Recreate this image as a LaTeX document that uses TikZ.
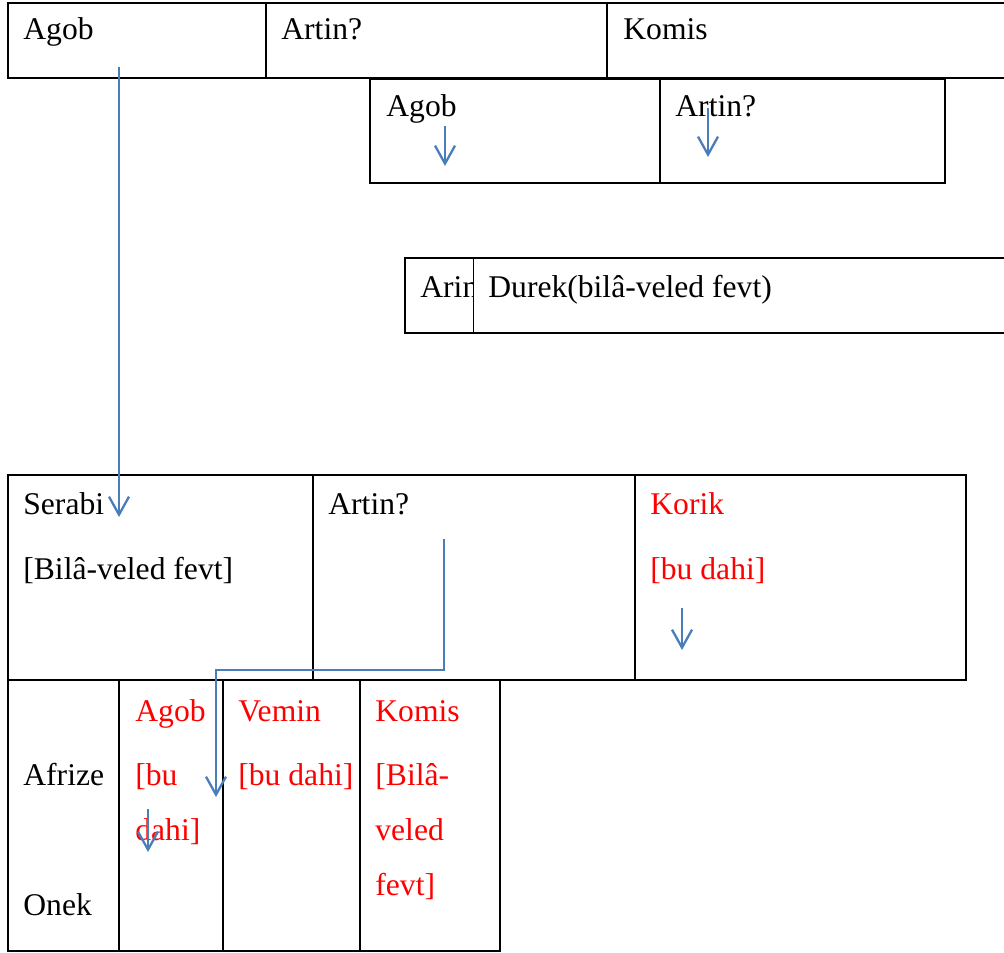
\documentclass[tikz,border=0pt]{standalone}
\usepackage{fontspec}
\setmainfont{Liberation Serif}
\usetikzlibrary{arrows.meta}
\definecolor{arrowblue}{HTML}{4A7EBB}
\definecolor{txtred}{HTML}{FF0000}
\begin{document}
\begin{tikzpicture}[x=0.5pt,y=-0.5pt,
  outer/.style={draw=black,line width=1pt},
  inner/.style={draw=black,line width=0.55pt},
  lbl/.style={anchor=base west,inner sep=0pt,font=\fontsize{15.8}{18}\selectfont},
  redlbl/.style={lbl,text=txtred},
  conn/.style={draw=arrowblue,line width=1.15pt,-{Straight Barb[length=9pt,width=10pt]}}]
\clip (0,0) rectangle (1004,952);
% table 1
\draw[outer] (8,3) rectangle (1012,78);
\draw[inner] (266,3) -- (266,78) (607,3) -- (607,78);
% table 2
\draw[outer] (370,79) rectangle (945,183);
\draw[inner] (660,79) -- (660,183);
% table 3
\draw[outer] (405,258) rectangle (1012,333);
\draw[inner] (473.5,258) -- (473.5,333);
% table 4
\draw[outer] (8,475) rectangle (966,680);
\draw[inner] (313,475) -- (313,680) (635,475) -- (635,680);
% table 5
\draw[outer] (8,680) rectangle (500,951);
\draw[inner] (119,680) -- (119,951) (223,680) -- (223,951) (360,680) -- (360,951);

% texts table 1
\node[lbl] (t1a) at (23,40) {Agob};
\node[lbl] (t1b) at (281,40) {Artin?};
\node[lbl] (t1c) at (623,40) {Komis};
% table 2
\node[lbl] (t2a) at (386,117) {Agob};
\node[lbl] (t2b) at (675,117) {Artin?};
% table 3
\begin{scope}
\clip (405,258) rectangle (473,333);
\node[lbl] (t3a) at (420,297) {Arin};
\end{scope}
\node[lbl] (t3b) at (488,297) {Durek(bilâ-veled fevt)};
% table 4
\node[lbl] (t4a) at (23,514) {Serabi};
\node[lbl] (t4b) at (23,579) {[Bilâ-veled fevt]};
\node[lbl] (t4c) at (328,514) {Artin?};
\node[redlbl] (t4d) at (650,514) {Korik};
\node[redlbl] (t4e) at (650,579) {[bu dahi]};
% table 5
\node[lbl] (t5a) at (23,785) {Afrize};
\node[lbl] (t5b) at (23,915) {Onek};
\node[redlbl] (t5c) at (135,721) {Agob};
\node[redlbl] (t5d) at (135,785) {[bu};
\node[redlbl] (t5e) at (135,840) {dahi]};
\node[redlbl] (t5f) at (238,721) {Vemin};
\node[redlbl] (t5g) at (238,785) {[bu dahi]};
\node[redlbl] (t5h) at (375,721) {Komis};
\node[redlbl] (t5i) at (375,785) {[Bilâ-};
\node[redlbl] (t5j) at (375,840) {veled};
\node[redlbl] (t5k) at (375,895) {fevt]};

% arrows
\coordinate (a1s) at (119,67);  \coordinate (a1e) at (119,517);
\coordinate (a2s) at (445,126); \coordinate (a2e) at (445,166);
\coordinate (a3s) at (708,108); \coordinate (a3e) at (708,157);
\coordinate (a4s) at (682,608); \coordinate (a4e) at (682,650);
\coordinate (a5s) at (444,539); \coordinate (a5e) at (216,797);
\coordinate (a6s) at (148,809); \coordinate (a6e) at (148,852);
\draw[conn] (a1s) -- (a1e);
\draw[conn] (a2s) -- (a2e);
\draw[conn] (a3s) -- (a3e);
\draw[conn] (a4s) -- (a4e);
\draw[conn] (a5s) |- (216,670) -- (a5e);
\draw[conn] (a6s) -- (a6e);
\end{tikzpicture}
\end{document}
